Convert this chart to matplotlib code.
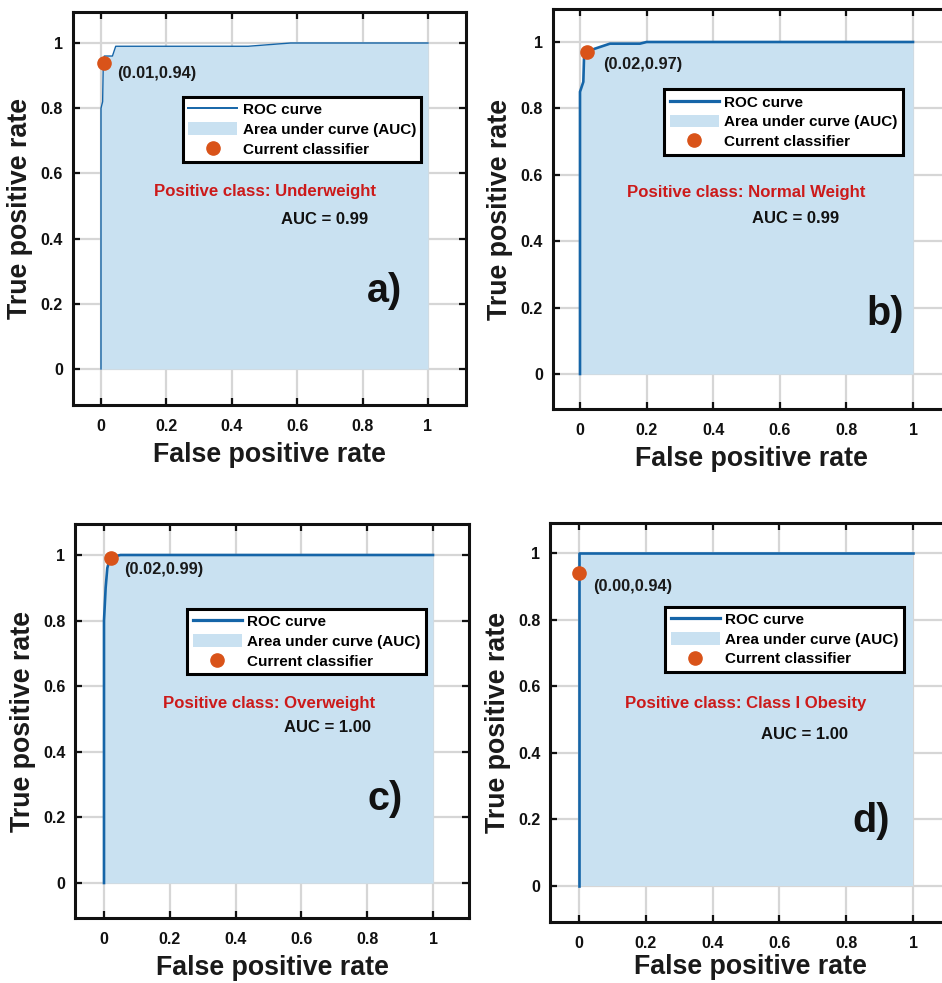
import matplotlib
matplotlib.use("Agg")
import matplotlib.pyplot as plt
from matplotlib.lines import Line2D
from matplotlib.patches import Patch

plt.rcParams['font.family'] = ['Liberation Sans', 'DejaVu Sans']
plt.rcParams['font.weight'] = 'bold'

# ---------------- data ----------------
fpr_a = [0, 0, 0.005, 0.007, 0.01, 0.035, 0.045, 0.45, 0.58, 1.0]
tpr_a = [0, 0.80, 0.82, 0.94, 0.96, 0.96, 0.99, 0.99, 1.0, 1.0]
fpr_b = [0, 0, 0.01, 0.012, 0.02, 0.045, 0.09, 0.18, 0.20, 1.0]
tpr_b = [0, 0.85, 0.88, 0.95, 0.97, 0.98, 0.995, 0.995, 1.0, 1.0]
fpr_c = [0, 0, 0.005, 0.01, 0.018, 0.03, 0.05, 1.0]
tpr_c = [0, 0.80, 0.90, 0.96, 0.99, 0.995, 1.0, 1.0]
fpr_d = [0, 0, 1.0]
tpr_d = [0, 1.0, 1.0]

op_points = [(0.01, 0.94), (0.02, 0.97), (0.02, 0.99), (0.00, 0.94)]
op_labels = ["(0.01,0.94)", "(0.02,0.97)", "(0.02,0.99)", "(0.00,0.94)"]
classes = ["Underweight", "Normal Weight", "Overweight", "Class I Obesity"]
auc_labels = ["AUC = 0.99", "AUC = 0.99", "AUC = 1.00", "AUC = 1.00"]
panel_tags = ["a)", "b)", "c)", "d)"]
ticks = [0, 0.2, 0.4, 0.6, 0.8, 1]
tick_labels = ["0", "0.2", "0.4", "0.6", "0.8", "1"]
curves = [(fpr_a, tpr_a), (fpr_b, tpr_b), (fpr_c, tpr_c), (fpr_d, tpr_d)]

# ---------------- style ----------------
W, H = 942, 983
LINE_C = '#1565A8'
FILL_C = '#C9E1F1'
MARK_C = '#D95319'
RED = '#CC1A1A'

# pixel geometry: left, right, top, bottom, x0px, x1px, y0px, y1px
geo = [
    (72.5, 466, 12, 405, 101, 428, 369, 43),
    (552.5, 951, 9, 409, 580, 913, 374, 42),
    (75, 469, 524, 918, 104, 433, 883, 555),
    (550, 951, 523, 922, 579, 913, 886, 553),
]
line_w = [1.0, 1.9, 1.9, 1.9]
xlabel_pad = [6, 6, 6, 2]
# annotation positions (data coords)
op_text_pos = [(0.049, 0.905), (0.07, 0.933), (0.061, 0.956), (0.043, 0.90)]
legend_anchor = [(0.98, 0.834), (0.97, 0.857), (0.979, 0.835), (0.973, 0.839)]
cls_pos = [(0.50, 0.543), (0.50, 0.546), (0.501, 0.548), (0.499, 0.547)]
auc_pos = [(0.685, 0.46), (0.648, 0.469), (0.678, 0.475), (0.674, 0.456)]
tag_pos = [(0.813, 0.205), (0.859, 0.148), (0.80, 0.223), (0.818, 0.163)]

fig = plt.figure(figsize=(W / 100, H / 100), dpi=100)

for i in range(4):
    L, R, T, B, x0, x1, y0, y1 = geo[i]
    sx = x1 - x0
    sy = y0 - y1
    xlim = ((L - x0) / sx, (R - x0) / sx)
    ylim = ((y0 - B) / sy, (y0 - T) / sy)
    ax = fig.add_axes([L / W, 1 - B / H, (R - L) / W, (B - T) / H])
    ax.set_xlim(*xlim)
    ax.set_ylim(*ylim)
    ax.set_axisbelow(True)
    ax.grid(True, color='#d6d6d6', lw=1.6)
    fx, fy = curves[i]
    ax.fill_between(fx, fy, 0, color=FILL_C, lw=0, zorder=1)
    ax.plot(fx, fy, color=LINE_C, lw=line_w[i], zorder=2)
    ox, oy = op_points[i]
    ax.plot([ox], [oy], 'o', color=MARK_C, ms=9.5, mec=MARK_C, zorder=4, clip_on=False)
    ax.text(op_text_pos[i][0], op_text_pos[i][1], op_labels[i], fontsize=11.8,
            fontweight='bold', ha='left', va='center', color='#1a1a1a', zorder=5)
    ax.text(cls_pos[i][0], cls_pos[i][1], "Positive class: " + classes[i], fontsize=12.1,
            fontweight='bold', ha='center', va='center', color=RED, zorder=5)
    ax.text(auc_pos[i][0], auc_pos[i][1], auc_labels[i], fontsize=12,
            fontweight='bold', ha='center', va='center', color='#111111', zorder=5)
    ax.text(tag_pos[i][0], tag_pos[i][1], panel_tags[i], fontsize=28.5,
            fontweight='bold', ha='left', va='baseline', color='#111111', zorder=5)

    handles = [
        Line2D([0], [0], color=LINE_C, lw=line_w[i] + 0.4),
        Patch(facecolor=FILL_C, edgecolor='none'),
        Line2D([0], [0], ls='none', marker='o', color=MARK_C, ms=9.5),
    ]
    leg = ax.legend(handles, ["ROC curve", "Area under curve (AUC)", "Current classifier"],
                    loc='upper right', bbox_to_anchor=legend_anchor[i],
                    bbox_transform=ax.transData, borderaxespad=0,
                    fancybox=False, framealpha=1, edgecolor='black',
                    prop={'size': 11, 'weight': 'bold'},
                    handlelength=3.2, handleheight=0.9, handletextpad=0.35,
                    labelspacing=0.34, borderpad=0.36)
    leg.get_frame().set_linewidth(2.2)
    leg.set_zorder(6)

    ax.set_xticks(ticks)
    ax.set_xticklabels(tick_labels)
    ax.set_yticks(ticks)
    ax.set_yticklabels(tick_labels)
    ax.tick_params(direction='in', length=5, width=1.6, top=True, right=True,
                   labelsize=11.5, colors='#111111')
    ax.tick_params(axis='x', pad=10)
    ax.tick_params(axis='y', pad=7)
    for lab in ax.get_xticklabels() + ax.get_yticklabels():
        lab.set_fontweight('bold')
    for sp in ax.spines.values():
        sp.set_linewidth(2.2)
        sp.set_color('#111111')
        sp.set_zorder(7)
    ax.set_xlabel("False positive rate", fontsize=19.3, fontweight='bold',
                  labelpad=xlabel_pad[i], color='#1a1a1a')
    ax.set_ylabel("True positive rate", fontsize=19.3, fontweight='bold', labelpad=5,
                  color='#1a1a1a')

fig.savefig("out.png", dpi=100)
